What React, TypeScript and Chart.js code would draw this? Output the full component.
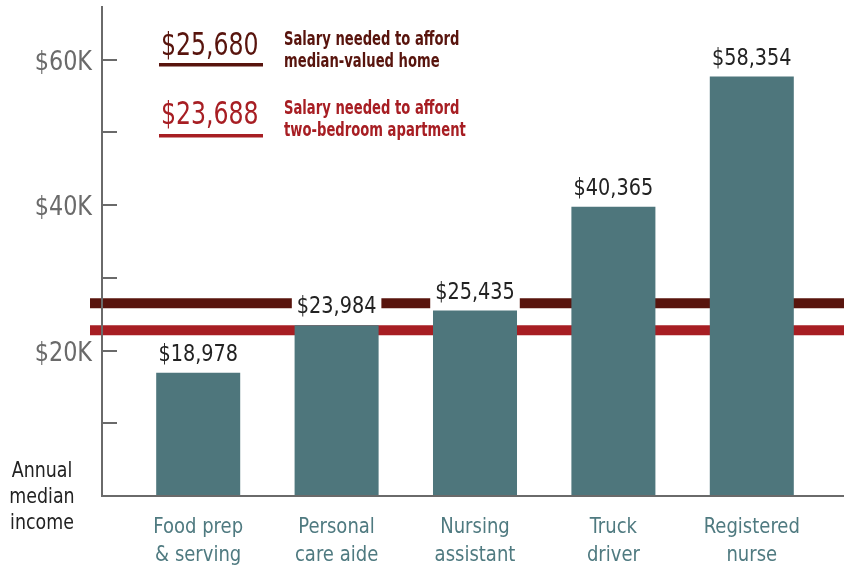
import React, { useEffect, useRef } from "react";
import { Chart, registerables } from "chart.js";

Chart.register(...registerables);

const categories: string[][] = [
  ["Food prep", "& serving"],
  ["Personal", "care aide"],
  ["Nursing", "assistant"],
  ["Truck", "driver"],
  ["Registered", "nurse"],
];
// bar heights as drawn in the reference (dollars)
const barValues = [16960, 23500, 25500, 39800, 57700];
// printed value labels
const valueLabels = ["$18,978", "$23,984", "$25,435", "$40,365", "$58,354"];
// threshold lines as drawn
const homeLineValue = 26500;
const aptLineValue = 22800;
const homeLabel = "$25,680";
const aptLabel = "$23,688";
const homeText = ["Salary needed to afford", "median-valued home"];
const aptText = ["Salary needed to afford", "two-bedroom apartment"];
const yTickValues = [10000, 20000, 30000, 40000, 50000, 60000];
const yTickLabels: Record<number, string> = { 20000: "$20K", 40000: "$40K", 60000: "$60K" };
const yAxisTitle = ["Annual", "median", "income"];

const FONT = `"DejaVu Sans Condensed", "DejaVu Sans", sans-serif`;
const BAR = "#4e767c";
const DARK = "#58140d";
const RED = "#a71e23";
const AXIS = "#6a6a6a";
const TEAL = "#4f7a80";

function squeezeText(ctx: CanvasRenderingContext2D, text: string, x: number, y: number, align: CanvasTextAlign, sx: number) {
  ctx.save();
  ctx.translate(x, y);
  ctx.scale(sx, 1);
  ctx.textAlign = align;
  ctx.textBaseline = "alphabetic";
  ctx.fillText(text, 0, 0);
  ctx.restore();
}

const drawPlugin = {
  id: "customDraw",
  beforeDatasetsDraw(chart: any) {
    const ctx = chart.ctx;
    const y = chart.scales.y;
    const w = chart.width;
    ctx.save();
    ctx.lineWidth = 10;
    ctx.strokeStyle = DARK;
    ctx.beginPath();
    ctx.moveTo(90, y.getPixelForValue(homeLineValue));
    ctx.lineTo(w, y.getPixelForValue(homeLineValue));
    ctx.stroke();
    ctx.strokeStyle = RED;
    ctx.beginPath();
    ctx.moveTo(90, y.getPixelForValue(aptLineValue));
    ctx.lineTo(w, y.getPixelForValue(aptLineValue));
    ctx.stroke();
    ctx.restore();
  },
  afterDatasetsDraw(chart: any) {
    const ctx = chart.ctx;
    const y = chart.scales.y;
    const x = chart.scales.x;
    const w = chart.width;
    const axisX = 102;
    const top = 6;
    const bottom = y.getPixelForValue(0);
    ctx.save();
    // axes
    ctx.strokeStyle = AXIS;
    ctx.lineWidth = 2;
    ctx.beginPath();
    ctx.moveTo(axisX, top);
    ctx.lineTo(axisX, bottom);
    ctx.lineTo(w, bottom);
    ctx.stroke();
    yTickValues.forEach((v) => {
      const py = Math.round(y.getPixelForValue(v));
      ctx.beginPath();
      ctx.moveTo(axisX, py);
      ctx.lineTo(axisX + 15, py);
      ctx.stroke();
      const lab = yTickLabels[v];
      if (lab) {
        ctx.fillStyle = AXIS;
        ctx.font = `27px ${FONT}`;
        squeezeText(ctx, lab, 92, py + 10, "right", 0.92);
      }
    });
    // value labels with white boxes
    const meta = chart.getDatasetMeta(0);
    meta.data.forEach((bar: any, i: number) => {
      ctx.font = `23px ${FONT}`;
      const tw = ctx.measureText(valueLabels[i]).width * 0.93;
      const base = bar.y - 12;
      ctx.fillStyle = "#ffffff";
      ctx.fillRect(bar.x - tw / 2 - 5, base - 22, tw + 10, 33);
      ctx.fillStyle = "#222222";
      squeezeText(ctx, valueLabels[i], bar.x, base, "center", 0.93);
    });
    // category labels
    categories.forEach((lines, i) => {
      const cx = x.getPixelForValue(i);
      ctx.fillStyle = TEAL;
      ctx.font = `22px ${FONT}`;
      lines.forEach((ln, j) => squeezeText(ctx, ln, cx, 533 + j * 28, "center", 0.91));
    });
    // y axis title
    ctx.fillStyle = "#222222";
    ctx.font = `22px ${FONT}`;
    yAxisTitle.forEach((ln, j) => squeezeText(ctx, ln, 42, 477 + j * 26, "center", 0.88));
    // legend
    const legend = (label: string, text: string[], color: string, base: number, underline: number, tBase: number) => {
      ctx.fillStyle = color;
      ctx.font = `32px ${FONT}`;
      squeezeText(ctx, label, 161, base, "left", 0.82);
      ctx.fillRect(159, underline, 104, 3.5);
      ctx.font = `bold 19px ${FONT}`;
      text.forEach((ln, j) => squeezeText(ctx, ln, 284, tBase + j * 22, "left", 0.77));
    };
    legend(homeLabel, homeText, DARK, 55, 63, 45);
    legend(aptLabel, aptText, RED, 124, 134, 114);
    ctx.restore();
  },
};

export default function App() {
  const ref = useRef<HTMLCanvasElement>(null);
  useEffect(() => {
    if (!ref.current) return;
    const chart = new Chart(ref.current, {
      type: "bar",
      data: {
        labels: categories.map((c) => c.join(" ")),
        datasets: [
          {
            data: barValues,
            backgroundColor: BAR,
            borderWidth: 0,
            barPercentage: 0.607,
            categoryPercentage: 1,
          },
        ],
      },
      options: {
        animation: false,
        responsive: false,
        maintainAspectRatio: false,
        layout: { padding: { left: 129, right: 23, top: 6, bottom: 73 } },
        plugins: { legend: { display: false }, tooltip: { enabled: false } },
        scales: {
          x: { display: false },
          y: { display: false, min: 0, max: 67400 },
        },
      },
      plugins: [drawPlugin],
    });
    return () => chart.destroy();
  }, []);
  return (
    <div style={{ position: "fixed", left: 0, top: 0, width: 844, height: 569, background: "#fff" }}>
      <canvas ref={ref} width={844} height={569} style={{ display: "block" }} />
    </div>
  );
}
